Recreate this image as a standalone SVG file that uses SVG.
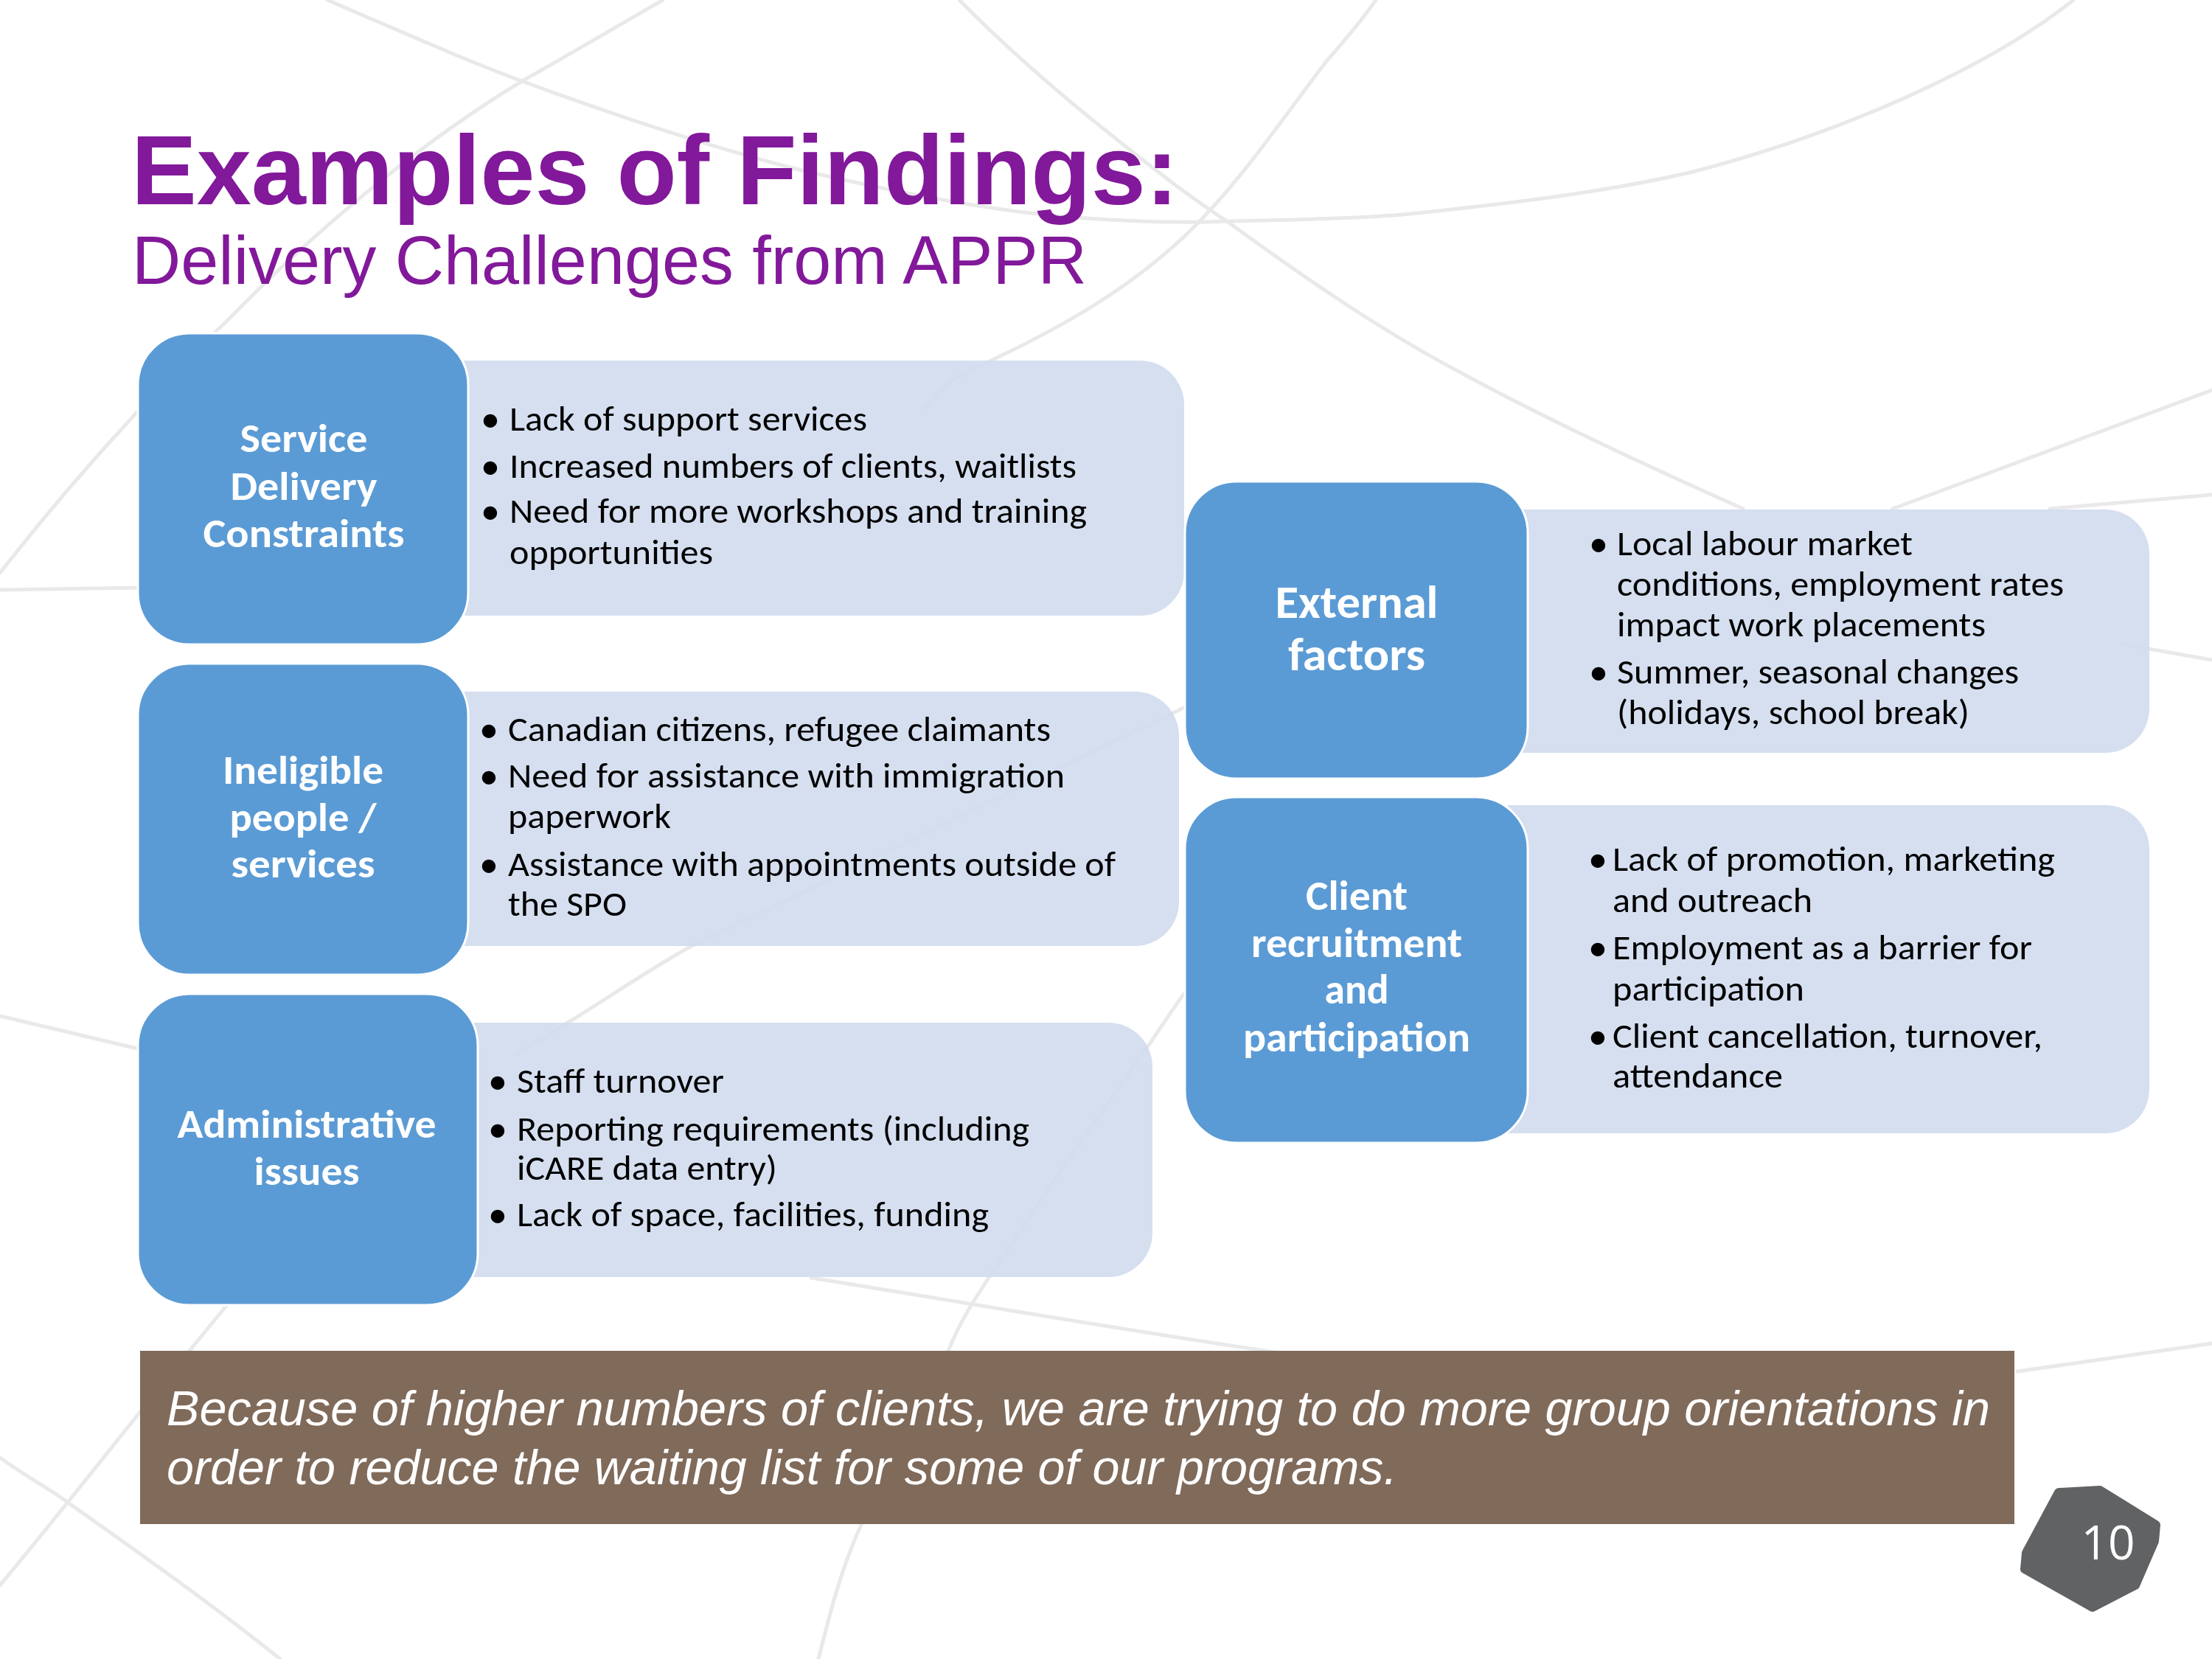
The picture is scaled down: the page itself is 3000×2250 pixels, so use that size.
<svg xmlns="http://www.w3.org/2000/svg" width="3000" height="2250" viewBox="0 0 3000 2250">
<defs>
<style>
.bg{fill:none;stroke:#e9e9e9;stroke-width:5;stroke-linecap:round;stroke-linejoin:round}
.dark{fill:#5B9BD5;stroke:#ffffff;stroke-width:3}
.light{fill:#D0DCEE;fill-opacity:0.9}
.hd{font-family:Carlito,Calibri,Lato,sans-serif;font-weight:bold;fill:#ffffff;text-anchor:middle}
.bt{font-family:Carlito,Calibri,Lato,sans-serif;fill:#000000;font-size:48px}
.bu{font-family:Carlito,Calibri,Lato,sans-serif;fill:#000000;font-size:52px;text-anchor:middle}
.title{font-family:"Liberation Sans",Arial,sans-serif;fill:#82189A}
.foot{font-family:"Liberation Sans",Arial,sans-serif;font-style:italic;fill:#ffffff;font-size:66px}
</style>
</defs>
<rect x="0" y="0" width="3000" height="2250" fill="#ffffff"/>
<g id="background-lines">
<path class="bg" d="M444,0 C560,50 640,85 708,110 C830,155 950,195 1071,227 C1250,270 1380,290 1473,296 C1560,302 1620,302 1664,300 C1760,298 1850,296 1913,290 C2060,275 2190,258 2296,233 C2500,180 2700,90 2812,0"/>
<path class="bg" d="M899,0 C830,40 770,75 708,110 C560,200 420,320 306,437 C260,480 220,520 183,562 C120,630 60,700 0,777"/>
<path class="bg" d="M0,800 L190,797"/>
<path class="bg" d="M0,1378 L190,1423"/>
<path class="bg" d="M1301,0 C1370,70 1440,130 1512,187 C1560,225 1610,265 1664,300 C1760,370 1860,440 1971,500 C2100,570 2230,630 2364,690"/>
<path class="bg" d="M1866,0 C1845,30 1822,57 1799,83 C1740,160 1690,235 1627,300 C1540,390 1430,450 1320,500 C1290,515 1270,530 1250,560"/>
<path class="bg" d="M3000,529 L2567,690"/>
<path class="bg" d="M2780,690 L3000,671"/>
<path class="bg" d="M2880,874 L3000,895"/>
<path class="bg" d="M2736,1860 L3000,1822"/>
<path class="bg" d="M312,1765 C200,1900 100,2030 0,2150"/>
<path class="bg" d="M0,1977 C25,1995 50,2010 77,2027 C180,2100 280,2170 380,2250"/>
<path class="bg" d="M1100,1733 C1300,1765 1500,1800 1703,1830 L1800,1845"/>
<path class="bg" d="M1700,915 C1670,930 1635,945 1599,963 C1380,1070 1150,1180 938,1283 C880,1315 830,1350 786,1377 L700,1430"/>
<path class="bg" d="M1640,1300 C1610,1340 1590,1370 1563,1410 C1480,1530 1400,1640 1330,1750 C1310,1780 1297,1805 1286,1832 C1240,1910 1200,1990 1167,2070 C1140,2130 1125,2190 1110,2250"/>
</g>
<g id="title">
<text class="title" x="178" y="277" font-size="134" font-weight="bold" textLength="1420" lengthAdjust="spacingAndGlyphs">Examples of Findings:</text>
<text class="title" x="179" y="385" font-size="92" textLength="1295" lengthAdjust="spacingAndGlyphs">Delivery Challenges from APPR</text>
</g>
<g id="connectors"></g>
<g id="node-service-delivery">
<path class="light" d="M610,489 H1546 A60,60 0 0 1 1606,549 V775 A60,60 0 0 1 1546,835 H610 Z"/>
<rect class="dark" x="187" y="452" width="448" height="422" rx="70" ry="70"/>
<text class="hd" font-size="54" x="412" y="613" textLength="173" lengthAdjust="spacingAndGlyphs">Service</text>
<text class="hd" font-size="54" x="412" y="678" textLength="199" lengthAdjust="spacingAndGlyphs">Delivery</text>
<text class="hd" font-size="54" x="412" y="742" textLength="273" lengthAdjust="spacingAndGlyphs">Constraints</text>
<text class="bu" x="665" y="585">•</text>
<text class="bt" x="691" y="584" textLength="485" lengthAdjust="spacingAndGlyphs">Lack of support services</text>
<text class="bu" x="665" y="649">•</text>
<text class="bt" x="691" y="648" textLength="769" lengthAdjust="spacingAndGlyphs">Increased numbers of clients, waitlists</text>
<text class="bu" x="665" y="710">•</text>
<text class="bt" x="691" y="709" textLength="783" lengthAdjust="spacingAndGlyphs">Need for more workshops and training</text>
<text class="bt" x="691" y="765" textLength="276" lengthAdjust="spacingAndGlyphs">opportunities</text>
</g>
<g id="node-ineligible">
<path class="light" d="M610,938 H1539 A60,60 0 0 1 1599,998 V1223 A60,60 0 0 1 1539,1283 H610 Z"/>
<rect class="dark" x="187" y="900" width="448" height="422" rx="70" ry="70"/>
<text class="hd" font-size="54" x="411" y="1063" textLength="218" lengthAdjust="spacingAndGlyphs">Ineligible</text>
<text class="hd" font-size="54" x="411" y="1127" textLength="199" lengthAdjust="spacingAndGlyphs">people /</text>
<text class="hd" font-size="54" x="411" y="1190" textLength="195" lengthAdjust="spacingAndGlyphs">services</text>
<text class="bu" x="663" y="1006">•</text>
<text class="bt" x="689" y="1005" textLength="736" lengthAdjust="spacingAndGlyphs">Canadian citizens, refugee claimants</text>
<text class="bu" x="663" y="1069">•</text>
<text class="bt" x="689" y="1068" textLength="755" lengthAdjust="spacingAndGlyphs">Need for assistance with immigration</text>
<text class="bt" x="689" y="1123" textLength="221" lengthAdjust="spacingAndGlyphs">paperwork</text>
<text class="bu" x="663" y="1189">•</text>
<text class="bt" x="689" y="1188" textLength="824" lengthAdjust="spacingAndGlyphs">Assistance with appointments outside of</text>
<text class="bt" x="689" y="1242" textLength="161" lengthAdjust="spacingAndGlyphs">the SPO</text>
</g>
<g id="node-administrative">
<path class="light" d="M620,1387 H1503 A60,60 0 0 1 1563,1447 V1672 A60,60 0 0 1 1503,1732 H620 Z"/>
<rect class="dark" x="187" y="1348" width="461" height="422" rx="70" ry="70"/>
<text class="hd" font-size="54" x="416" y="1543" textLength="351" lengthAdjust="spacingAndGlyphs">Administrative</text>
<text class="hd" font-size="54" x="416" y="1607" textLength="143" lengthAdjust="spacingAndGlyphs">issues</text>
<text class="bu" x="675" y="1483">•</text>
<text class="bt" x="701" y="1482" textLength="281" lengthAdjust="spacingAndGlyphs">Staff turnover</text>
<text class="bu" x="675" y="1548">•</text>
<text class="bt" x="701" y="1547" textLength="695" lengthAdjust="spacingAndGlyphs">Reporting requirements (including</text>
<text class="bt" x="701" y="1600" textLength="353" lengthAdjust="spacingAndGlyphs">iCARE data entry)</text>
<text class="bu" x="675" y="1664">•</text>
<text class="bt" x="701" y="1663" textLength="640" lengthAdjust="spacingAndGlyphs">Lack of space, facilities, funding</text>
</g>
<g id="node-external">
<path class="light" d="M2045,691 H2855 A60,60 0 0 1 2915,751 V961 A60,60 0 0 1 2855,1021 H2045 Z"/>
<rect class="dark" x="1607" y="653" width="465" height="403" rx="70" ry="70"/>
<text class="hd" font-size="62" x="1840" y="838" textLength="221" lengthAdjust="spacingAndGlyphs">External</text>
<text class="hd" font-size="62" x="1840" y="909" textLength="186" lengthAdjust="spacingAndGlyphs">factors</text>
<text class="bu" x="2168" y="754">•</text>
<text class="bt" x="2193" y="753" textLength="401" lengthAdjust="spacingAndGlyphs">Local labour market</text>
<text class="bt" x="2193" y="808" textLength="606" lengthAdjust="spacingAndGlyphs">conditions, employment rates</text>
<text class="bt" x="2193" y="863" textLength="500" lengthAdjust="spacingAndGlyphs">impact work placements</text>
<text class="bu" x="2168" y="928">•</text>
<text class="bt" x="2193" y="927" textLength="545" lengthAdjust="spacingAndGlyphs">Summer, seasonal changes</text>
<text class="bt" x="2193" y="982" textLength="478" lengthAdjust="spacingAndGlyphs">(holidays, school break)</text>
</g>
<g id="node-client">
<path class="light" d="M2045,1092 H2855 A60,60 0 0 1 2915,1152 V1477 A60,60 0 0 1 2855,1537 H2045 Z"/>
<rect class="dark" x="1607" y="1081" width="465" height="469" rx="70" ry="70"/>
<text class="hd" font-size="56" x="1840" y="1234" textLength="138" lengthAdjust="spacingAndGlyphs">Client</text>
<text class="hd" font-size="56" x="1840" y="1298" textLength="286" lengthAdjust="spacingAndGlyphs">recruitment</text>
<text class="hd" font-size="56" x="1840" y="1361" textLength="87" lengthAdjust="spacingAndGlyphs">and</text>
<text class="hd" font-size="56" x="1840" y="1426" textLength="308" lengthAdjust="spacingAndGlyphs">participation</text>
<text class="bu" x="2167" y="1182">•</text>
<text class="bt" x="2187" y="1181" textLength="600" lengthAdjust="spacingAndGlyphs">Lack of promotion, marketing</text>
<text class="bt" x="2187" y="1237" textLength="271" lengthAdjust="spacingAndGlyphs">and outreach</text>
<text class="bu" x="2167" y="1302">•</text>
<text class="bt" x="2187" y="1301" textLength="569" lengthAdjust="spacingAndGlyphs">Employment as a barrier for</text>
<text class="bt" x="2187" y="1357" textLength="260" lengthAdjust="spacingAndGlyphs">participation</text>
<text class="bu" x="2167" y="1422">•</text>
<text class="bt" x="2187" y="1421" textLength="583" lengthAdjust="spacingAndGlyphs">Client cancellation, turnover,</text>
<text class="bt" x="2187" y="1475" textLength="231" lengthAdjust="spacingAndGlyphs">attendance</text>
</g>
<g id="quote">
<rect x="190" y="1832" width="2542" height="235" fill="#806A5A"/>
<text class="foot" x="226" y="1933" textLength="2473" lengthAdjust="spacingAndGlyphs">Because of higher numbers of clients, we are trying to do more group orientations in</text>
<text class="foot" x="226" y="2013" textLength="1669" lengthAdjust="spacingAndGlyphs">order to reduce the waiting list for some of our programs.</text>
</g>
<g id="page-number">
<polygon points="2792,2024 2848,2021 2924,2068 2922,2090 2896,2150 2838,2180 2746,2128 2748,2106" fill="#616264" stroke="#616264" stroke-width="12" stroke-linejoin="round"/>
<text x="2859" y="2115" font-family="'Open Sans',sans-serif" font-size="64" fill="#ffffff" text-anchor="middle">10</text>
</g>
</svg>
